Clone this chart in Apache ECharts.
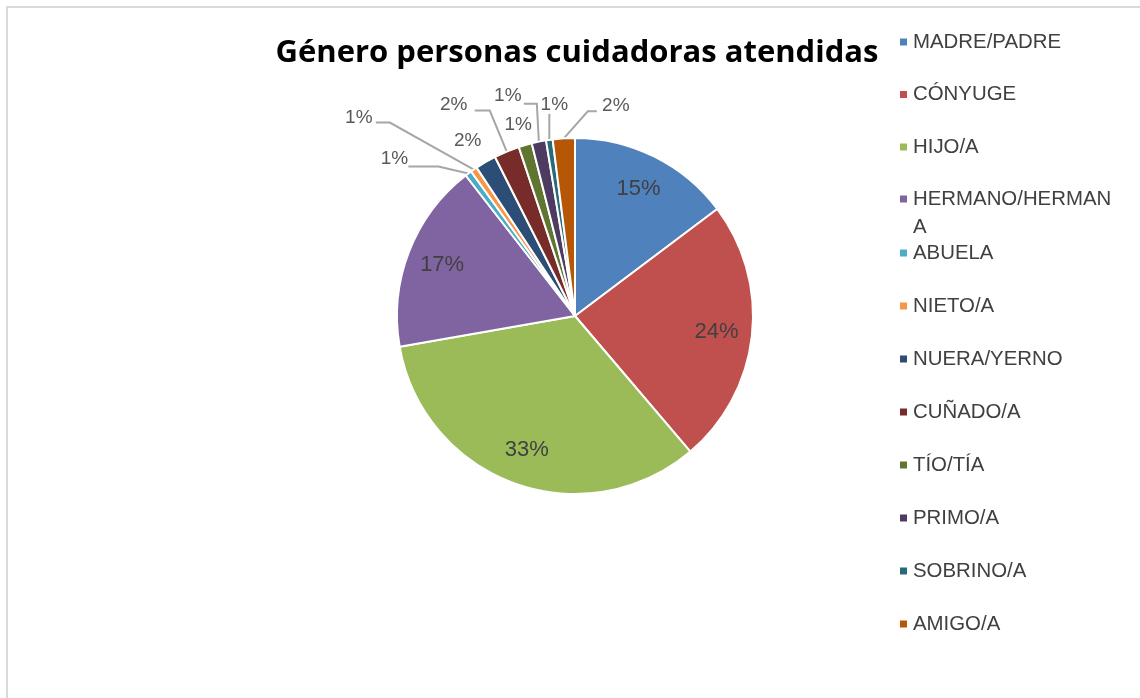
<!DOCTYPE html>
<html>
<head>
<meta charset="utf-8">
<script src="https://cdn.jsdelivr.net/npm/echarts@6/dist/echarts.min.js"></script>
<style>
html,body{margin:0;padding:0;background:#fff;}
#chart{width:1140px;height:698px;}
</style>
</head>
<body>
<div id="chart"></div>
<script>
const titleText = 'Género personas cuidadoras atendidas';
const categories = ['MADRE/PADRE','CÓNYUGE','HIJO/A','HERMANO/HERMANA','ABUELA','NIETO/A','NUERA/YERNO','CUÑADO/A','TÍO/TÍA','PRIMO/A','SOBRINO/A','AMIGO/A'];
const values = [14.7, 24.0, 33.4, 17.2, 0.6, 0.6, 1.9, 2.3, 1.2, 1.3, 0.6, 2.0];
const colors = ['#4F81BD','#C0504D','#9BBB59','#8064A2','#4BACC6','#F79646','#2C4D75','#772C2A','#5F7530','#4D3B62','#276A7C','#B65708'];

// label placement (offsets relative to the slice's outer edge point), style only
const outsideLabelPlacement = {
  4:  {label:[-74,-15], line:[[-30,-7],[-60,-7]]},
  5:  {label:[-115,-52], line:[[-84,-47],[-98,-47]]},
  6:  {label:[-18,-21], line:null},
  7:  {label:[-53,-47], line:[[-17,-41],[-32,-41]]},
  8:  {label:[-7,-20], line:null},
  9:  {label:[-31,-46], line:[[-2,-38],[-15,-38]]},
  10: {label:[5,-35], line:[[0,-26],[0,-26]]},
  11: {label:[52,-33], line:[[24,-27],[33,-27]]}
};

const pieCenter = [575,316];
const pieRadius = 178;
const insideLabelRatio = 0.8;

const total = values.reduce((a,b)=>a+b,0);
const pct = v => Math.round(v/total*100) + '%';
const midAngles = [];
(function(){ let cum = 0; values.forEach(v => { midAngles.push((cum + v/2)/total*2*Math.PI); cum += v; }); })();

const data = categories.map((c,i)=>{
  const big = values[i] >= 5;
  const pl = outsideLabelPlacement[i];
  return {
    name: c,
    value: values[i],
    label: big ? {position:'inside', color:'#404040', fontSize:22} : {position:'outside', color:'#595959', fontSize:19},
    labelLine: {show: !big && !!(pl && pl.line)}
  };
});

const legendText = {fontFamily:'Liberation Sans', fontSize:20.4, color:'#404040', lineHeight:24};

const chart = echarts.init(document.getElementById('chart'));
chart.setOption({
  animation:false,
  color: colors,
  title:{
    text: titleText,
    left: 572, top: 33, textAlign:'center',
    textStyle:{fontFamily:'Open Sans', fontWeight:'bold', fontSize:31, color:'#000'}
  },
  legend:[
    {
      data: categories.slice(0,3),
      orient:'vertical', left: 893, top: 25,
      itemWidth: 9, itemHeight: 9, itemGap: 28.5, icon:'rect',
      textStyle: legendText
    },
    {
      data: categories.slice(3,4),
      orient:'vertical', left: 893, top: 152,
      itemWidth: 9, itemHeight: 9, icon:'rect',
      formatter: n => n === 'HERMANO/HERMANA' ? '\nHERMANO/HERMAN\nA' : n,
      textStyle: Object.assign({}, legendText, {lineHeight:28})
    },
    {
      data: categories.slice(4),
      orient:'vertical', left: 893, top: 236,
      itemWidth: 9, itemHeight: 9, itemGap: 29, icon:'rect',
      textStyle: legendText
    }
  ],
  graphic:[{type:'rect', shape:{x:7,y:7,width:1200,height:800}, style:{fill:null, stroke:'#d9d9d9', lineWidth:2}, silent:true}],
  series:[{
    type:'pie',
    center:pieCenter,
    radius:[0,pieRadius],
    startAngle:90,
    clockwise:true,
    avoidLabelOverlap:false,
    itemStyle:{borderColor:'#fff', borderWidth:2},
    label:{formatter: p => pct(p.value), fontFamily:'Liberation Sans'},
    labelLine:{length:20, length2:20, lineStyle:{color:'#a6a6a6', width:2}},
    labelLayout: function(params){
      const i = params.dataIndex;
      const r = params.rect;
      if (values[i] >= 5) {
        const a = midAngles[i];
        const d = insideLabelRatio*pieRadius;
        return {x: pieCenter[0] + d*Math.sin(a), y: pieCenter[1] - d*Math.cos(a), align:'center', verticalAlign:'middle'};
      }
      const pl = outsideLabelPlacement[i];
      const E = (params.labelLinePoints && params.labelLinePoints[0]) || [r.x, r.y];
      const out = {x: E[0]+pl.label[0], y: E[1]+pl.label[1], align:'center', verticalAlign:'middle'};
      if (pl.line) {
        out.labelLinePoints = [[E[0],E[1]], [E[0]+pl.line[0][0], E[1]+pl.line[0][1]], [E[0]+pl.line[1][0], E[1]+pl.line[1][1]]];
      }
      return out;
    },
    data: data
  }]
});
</script>
</body>
</html>
